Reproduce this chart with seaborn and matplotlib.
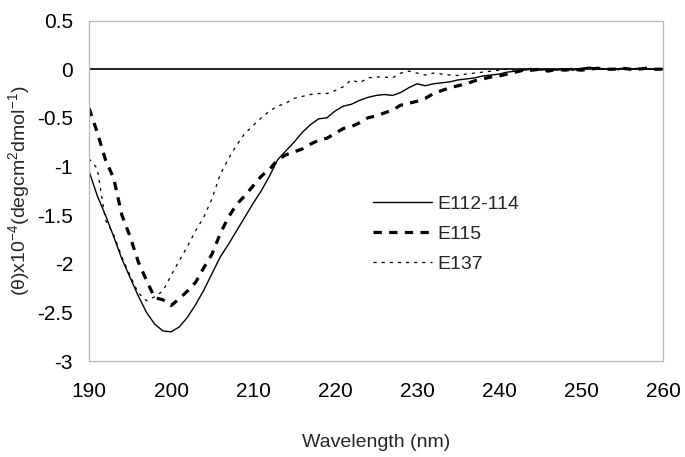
import numpy as np
import pandas as pd
import matplotlib
matplotlib.use("Agg")
import matplotlib.pyplot as plt
import seaborn as sns

# wavelength in nm, 1 nm steps
wavelength = list(range(190, 261))

# (theta) x 10^-4
e112_114 = [-1.05, -1.30, -1.50, -1.72, -1.95, -2.14, -2.33, -2.50, -2.62, -2.69,
            -2.70, -2.65, -2.55, -2.42, -2.27, -2.10, -1.93, -1.80, -1.66, -1.52,
            -1.38, -1.25, -1.10, -0.93, -0.84, -0.75, -0.65, -0.57, -0.51, -0.50,
            -0.43, -0.38, -0.36, -0.32, -0.29, -0.27, -0.26, -0.27, -0.24, -0.19,
            -0.15, -0.17, -0.15, -0.14, -0.13, -0.11, -0.10, -0.09, -0.07, -0.06,
            -0.05, -0.03, -0.02, -0.01, 0.00, -0.01, 0.00, -0.01, 0.00, -0.01,
            0.01, 0.02, 0.01, 0.00, 0.00, 0.01, 0.00, 0.01, 0.00, 0.00, 0.00]

e115 = [-0.40, -0.65, -0.93, -1.12, -1.50, -1.72, -1.98, -2.17, -2.35, -2.37,
        -2.43, -2.36, -2.28, -2.19, -2.04, -1.90, -1.69, -1.52, -1.39, -1.30,
        -1.20, -1.10, -1.03, -0.93, -0.88, -0.85, -0.82, -0.77, -0.73, -0.71,
        -0.66, -0.61, -0.59, -0.55, -0.50, -0.48, -0.45, -0.42, -0.37, -0.35,
        -0.33, -0.30, -0.25, -0.22, -0.19, -0.17, -0.15, -0.12, -0.10, -0.08,
        -0.07, -0.05, -0.03, -0.01, -0.01, 0.00, -0.02, 0.00, -0.01, 0.00,
        -0.01, 0.00, 0.01, 0.00, 0.00, 0.01, 0.00, 0.00, 0.01, 0.00, 0.00]

e137 = [-0.92, -1.02, -1.55, -1.70, -1.93, -2.12, -2.30, -2.38, -2.34, -2.28,
        -2.12, -1.97, -1.82, -1.66, -1.52, -1.33, -1.08, -0.92, -0.78, -0.66,
        -0.58, -0.50, -0.43, -0.38, -0.35, -0.30, -0.28, -0.26, -0.25, -0.25,
        -0.22, -0.18, -0.11, -0.14, -0.09, -0.08, -0.08, -0.09, -0.04, -0.02,
        -0.04, -0.06, -0.04, -0.05, -0.06, -0.065, -0.05, -0.04, -0.03, -0.02,
        -0.01, 0.00, -0.01, 0.00, 0.01, 0.00, -0.01, 0.00, 0.00, 0.01,
        0.00, 0.01, 0.00, 0.00, -0.01, 0.00, 0.01, 0.00, 0.00, 0.00, 0.00]

series_names = ["E112-114", "E115", "E137"]
x_ticks = [190, 200, 210, 220, 230, 240, 250, 260]
y_ticks = [-3, -2.5, -2, -1.5, -1, -0.5, 0, 0.5]

sns.set_style("white")
plt.rcParams['font.family'] = ['Liberation Sans', 'DejaVu Sans']
plt.rcParams['mathtext.fontset'] = 'custom'
plt.rcParams['mathtext.rm'] = 'Liberation Sans'
plt.rcParams['mathtext.it'] = 'Liberation Sans'

df = pd.DataFrame({"wavelength": wavelength,
                   "E112-114": e112_114, "E115": e115, "E137": e137})

fig = plt.figure(figsize=(6.85, 4.57), dpi=100)
ax = fig.add_axes([0.130, 0.210, 0.838, 0.745])

ax.axhline(0, color='black', lw=1.2, zorder=1)

styles = {
    "E112-114": dict(lw=1.0, dashes=None),
    "E115": dict(lw=2.3, dashes=(2.6, 2.3)),
    "E137": dict(lw=0.9, dashes=(2.5, 4.0)),
}
handles = []
for name in series_names:
    sns.lineplot(data=df, x="wavelength", y=name, ax=ax, color='black',
                 lw=styles[name]["lw"], label=name, legend=False)
    line = ax.lines[-1]
    if styles[name]["dashes"] is not None:
        line.set_dashes(styles[name]["dashes"])
    handles.append(line)

ax.set_xlim(190, 260)
ax.set_ylim(-3, 0.5)
ax.set_xticks(x_ticks)
ax.set_xticklabels([str(t) for t in x_ticks])
ax.set_yticks(y_ticks)
ax.set_yticklabels([f"{t:g}" for t in y_ticks])

for sp in ax.spines.values():
    sp.set_color('#b8b8b8')
    sp.set_linewidth(0.9)
ax.tick_params(axis='both', direction='out', length=4, width=0.9,
               color='#b8b8b8', labelsize=15, labelcolor='black')
ax.tick_params(axis='x', pad=11)
ax.tick_params(axis='y', pad=7.5)

ax.set_xlabel("Wavelength (nm)", fontsize=14, labelpad=24)
ax.set_ylabel(r"(θ)x10$^{-4}$(degcm$^{2}$dmol$^{-1}$)", fontsize=14, labelpad=4)

ax.legend(handles=handles, labels=series_names, loc='center left',
          bbox_to_anchor=(0.533, 0.438, 0.3, 0.1), bbox_transform=fig.transFigure,
          borderaxespad=0, frameon=False, fontsize=14, handlelength=3.05,
          handletextpad=0.26, labelspacing=0.65)

fig.savefig("out.png", dpi=100)
